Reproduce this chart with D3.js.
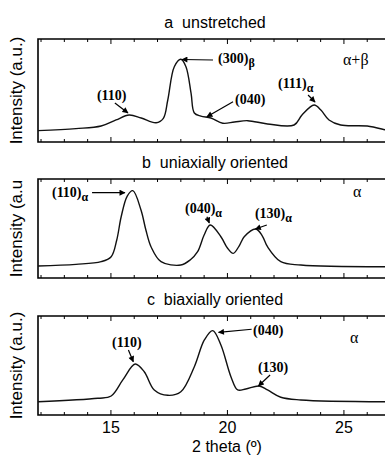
<!DOCTYPE html>
<html>
<head>
<meta charset="utf-8">
<script src="https://cdn.jsdelivr.net/npm/d3@7"></script>
<style>
  body { margin: 0; background: #fff; }
  svg { display: block; }
</style>
</head>
<body>
<svg id="chart"></svg>
<script>
"use strict";

// 2 theta (deg) / intensity (a.u., 0-100 per panel)
const theta_a = [11.87, 13.5, 14.58, 15.22, 15.78, 16.3, 16.94, 17.25, 17.44, 17.72, 18.0, 18.22, 18.44, 18.58, 18.86, 19.29, 19.8, 20.3, 20.87, 21.72, 22.86, 23.2, 23.72, 24.01, 24.36, 24.86, 26.0, 26.8, 27.0];
const int_a   = [11.0, 13.0, 15.5, 21.4, 26.2, 23.3, 18.7, 23.0, 40.8, 73.1, 80.3, 73.1, 47.3, 28.2, 25.2, 23.3, 18.2, 19.4, 20.7, 17.5, 16.5, 26.2, 35.9, 31.1, 21.4, 16.5, 15.5, 11.7, 10.7];

const theta_b = [11.87, 13.5, 14.58, 15.01, 15.25, 15.44, 15.7, 15.94, 16.29, 16.5, 16.72, 17.15, 18.0, 18.4, 18.72, 19.0, 19.26, 19.72, 20.0, 20.25, 20.5, 20.72, 21.22, 21.5, 21.72, 22.29, 23.15, 27.0];
const int_b   = [12.1, 13.8, 16.5, 21.5, 38.4, 61.9, 82.8, 88.2, 68.7, 48.5, 31.6, 16.5, 13.1, 18.2, 26.6, 43.4, 53.5, 41.7, 30.3, 24.9, 32.3, 41.7, 49.5, 42.4, 31.6, 16.5, 13.1, 11.4];

const theta_c = [11.87, 14.44, 15.01, 15.51, 16.04, 16.43, 16.86, 17.44, 18.0, 18.58, 19.01, 19.37, 19.72, 20.15, 20.44, 20.79, 21.36, 21.72, 22.29, 23.15, 27.0];
const int_c   = [13.4, 16.9, 19.2, 35.4, 51.5, 43.7, 25.3, 19.9, 23.5, 48.8, 75.8, 85.2, 70.7, 38.7, 25.3, 26.3, 29.3, 25.3, 17.9, 15.2, 13.4];

const panel_titles = ["a  unstretched", "b  uniaxially oriented", "c  biaxially oriented"];
const y_titles = ["Intensity (a.u.)", "Intensity (a.u", "Intensity (a.u.)"];
const phase_labels = ["\u03b1+\u03b2", "\u03b1", "\u03b1"];
const x_ticks = [15, 20, 25];

// peak annotations: [label, subscript, label x, label y, arrow from x, y, arrow to x, y]
const notes_a = [
    ["(110)", "", 14.4, 40.3, 15.17, 37.9, 15.73, 28.2],
    ["(300)", "\u03b2", 19.6, 76.7, 19.38, 79.6, 18.05, 80.1],
    ["(040)", "", 20.33, 36.9, 20.24, 39.1, 19.12, 24.5],
    ["(111)", "\u03b1", 22.17, 52.4, 23.46, 45.6, 23.76, 38.8]
];
const notes_b = [
    ["(110)", "\u03b1", 12.47, 82.1, 14.19, 86.2, 15.6, 86.2],
    ["(040)", "\u03b1", 18.18, 65.7, 19.12, 61.9, 19.22, 55.6],
    ["(130)", "\u03b1", 21.18, 60.6, 21.69, 53.5, 21.2, 49.5]
];
const notes_c = [
    ["(110)", "", 15.05, 69.0, 15.75, 65.7, 15.96, 53.8],
    ["(040)", "", 21.1, 80.8, 21.04, 86.6, 19.62, 83.5],
    ["(130)", "", 21.31, 43.1, 21.83, 40.4, 21.33, 29.3]
];

const width = 385, height = 457;
const panel_tops = [39, 179, 316];
const panel_heights = [103, 99, 99];
const phase_pos = [[24.96, 74.8], [25.39, 81.8], [25.26, 72.7]];

const svg = d3.select("#chart").attr("width", width).attr("height", height);

svg.append("defs").append("marker")
    .attr("id", "arrow")
    .attr("viewBox", "0 -5 10 10")
    .attr("refX", 9)
    .attr("refY", 0)
    .attr("markerWidth", 7)
    .attr("markerHeight", 6)
    .attr("markerUnits", "userSpaceOnUse")
    .attr("orient", "auto")
    .append("path")
    .attr("d", "M0,-5L10,0L0,5Z")
    .attr("fill", "#000");

const x = d3.scaleLinear().domain([11.87, 27]).range([38, 38 + 15.13 * 23.3]);

const panels = [
    { theta: theta_a, inten: int_a, notes: notes_a },
    { theta: theta_b, inten: int_b, notes: notes_b },
    { theta: theta_c, inten: int_c, notes: notes_c }
];

panels.forEach((p, i) => {
    const top = panel_tops[i];
    const bottom = top + panel_heights[i];
    const y = d3.scaleLinear().domain([0, 100]).range([bottom, top]);
    const g = svg.append("g");

    // title
    g.append("text")
        .attr("x", 215)
        .attr("y", top - 11)
        .attr("text-anchor", "middle")
        .style("font-family", "Liberation Sans, Arial, sans-serif")
        .style("font-size", "16px")
        .style("white-space", "pre")
        .text(panel_titles[i]);

    // y title
    g.append("text")
        .attr("transform", `translate(22, ${(top + bottom) / 2}) rotate(-90)`)
        .attr("text-anchor", "middle")
        .style("font-family", "Liberation Sans, Arial, sans-serif")
        .style("font-size", "17px")
        .text(y_titles[i]);

    // ticks, inward, top and bottom
    const minor = d3.range(12, 28, 1);
    minor.forEach(t => {
        const len = x_ticks.includes(t) ? 5 : 3;
        g.append("line").attr("x1", x(t)).attr("x2", x(t))
            .attr("y1", bottom).attr("y2", bottom - len)
            .attr("stroke", "#000").attr("stroke-width", 1);
        g.append("line").attr("x1", x(t)).attr("x2", x(t))
            .attr("y1", top).attr("y2", top + len)
            .attr("stroke", "#000").attr("stroke-width", 1);
    });

    // frame (right side runs off the picture)
    g.append("path")
        .attr("d", `M${x(27) + 20},${top}H${x(11.87)}V${bottom}H${x(27) + 20}`)
        .attr("fill", "none")
        .attr("stroke", "#000")
        .attr("stroke-width", 1.6);

    const line = d3.line()
        .x((d, k) => x(p.theta[k]))
        .y(d => y(d))
        .curve(d3.curveCatmullRom.alpha(0.5));

    g.append("path")
        .attr("d", line(p.inten))
        .attr("fill", "none")
        .attr("stroke", "#111")
        .attr("stroke-width", 1.4);

    // annotations
    p.notes.forEach(n => {
        g.append("line")
            .attr("x1", x(n[4])).attr("y1", y(n[5]))
            .attr("x2", x(n[6])).attr("y2", y(n[7]))
            .attr("stroke", "#000")
            .attr("stroke-width", 1.2)
            .attr("marker-end", "url(#arrow)");
        const t = g.append("text")
            .attr("x", x(n[2]))
            .attr("y", y(n[3]))
            .style("font-family", "Liberation Serif, Times New Roman, serif")
            .style("font-size", "14px")
            .style("font-weight", "bold")
            .text(n[0]);
        if (n[1]) {
            t.append("tspan")
                .attr("dy", 4)
                .style("font-size", "12px")
                .text(n[1]);
        }
    });

    g.append("text")
        .attr("x", x(phase_pos[i][0]))
        .attr("y", y(phase_pos[i][1]))
        .style("font-family", "Liberation Serif, Times New Roman, serif")
        .style("font-size", "16px")
        .text(phase_labels[i]);

    if (i === 2) {
        x_ticks.forEach(t => {
            g.append("text")
                .attr("x", x(t))
                .attr("y", bottom + 18)
                .attr("text-anchor", "middle")
                .style("font-family", "Liberation Sans, Arial, sans-serif")
                .style("font-size", "16px")
                .text(t);
        });
        g.append("text")
            .attr("x", 227)
            .attr("y", 452)
            .attr("text-anchor", "middle")
            .style("font-family", "Liberation Sans, Arial, sans-serif")
            .style("font-size", "16px")
            .text("2 theta (\u00ba)");
    }
});
</script>
</body>
</html>
